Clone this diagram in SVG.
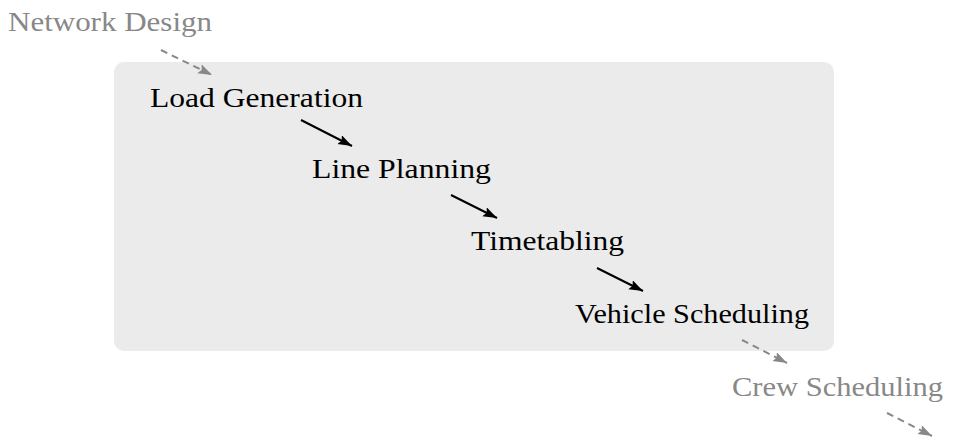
<svg xmlns="http://www.w3.org/2000/svg" width="954" height="446" viewBox="0 0 954 446">
  <defs>
    <style>
      .lbl { font-family: "Liberation Serif", "DejaVu Serif", serif; font-size: 27.5px; }
      .main { fill: #000000; }
      .side { fill: #888888; }
      .solid { stroke: #000000; stroke-width: 2; fill: none; }
      .dash { stroke: #888888; stroke-width: 2; fill: none; stroke-dasharray: 7 5; }
    </style>
    <marker id="ah-black" markerUnits="userSpaceOnUse" markerWidth="15" markerHeight="11" refX="14" refY="5" orient="auto">
      <path d="M0,0 L14,5 L0,10 L2.5,5 z" fill="#000000"/>
    </marker>
    <marker id="ah-grey" markerUnits="userSpaceOnUse" markerWidth="15" markerHeight="11" refX="14" refY="5" orient="auto">
      <path d="M0,0 L14,5 L0,10 L2.5,5 z" fill="#888888"/>
    </marker>
  </defs>

  <rect id="scope" x="114" y="62" width="720" height="289" rx="10" ry="10" fill="#ebebeb"/>

  <g id="connectors">
    <line class="dash" x1="161" y1="50" x2="212" y2="75" marker-end="url(#ah-grey)"/>
    <line class="solid" x1="301" y1="120" x2="352" y2="146" marker-end="url(#ah-black)"/>
    <line class="solid" x1="451" y1="195" x2="497" y2="218" marker-end="url(#ah-black)"/>
    <line class="solid" x1="597" y1="268" x2="643" y2="291" marker-end="url(#ah-black)"/>
    <line class="dash" x1="742" y1="340" x2="787" y2="363" marker-end="url(#ah-grey)"/>
    <line class="dash" x1="887" y1="413" x2="932" y2="436" marker-end="url(#ah-grey)"/>
  </g>

  <g id="network-design">
    <text class="lbl side" x="8" y="31" textLength="204" lengthAdjust="spacingAndGlyphs">Network Design</text>
  </g>
  <g id="load-generation">
    <text class="lbl main" x="150" y="107" textLength="213" lengthAdjust="spacingAndGlyphs">Load Generation</text>
  </g>
  <g id="line-planning">
    <text class="lbl main" x="312" y="178" textLength="179" lengthAdjust="spacingAndGlyphs">Line Planning</text>
  </g>
  <g id="timetabling">
    <text class="lbl main" x="471" y="250" textLength="153" lengthAdjust="spacingAndGlyphs">Timetabling</text>
  </g>
  <g id="vehicle-scheduling">
    <text class="lbl main" x="575" y="323" textLength="234" lengthAdjust="spacingAndGlyphs">Vehicle Scheduling</text>
  </g>
  <g id="crew-scheduling">
    <text class="lbl side" x="732" y="396" textLength="211" lengthAdjust="spacingAndGlyphs">Crew Scheduling</text>
  </g>
</svg>
